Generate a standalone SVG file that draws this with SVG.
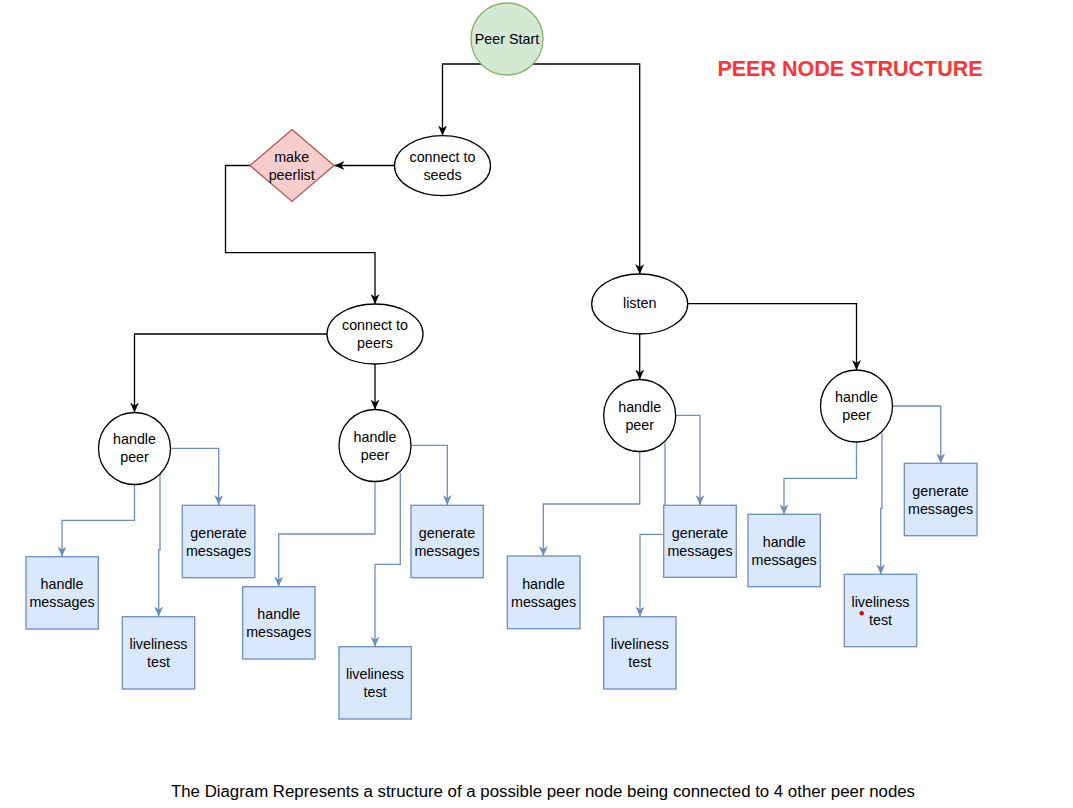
<svg xmlns="http://www.w3.org/2000/svg" width="1073" height="808" viewBox="0 0 1073 808">
<style>
text{font-family:"Liberation Sans",Arial,sans-serif;font-size:14.3px;fill:#000;text-anchor:middle}
.blk{fill:none;stroke:#000;stroke-width:1.3}
.blu{fill:none;stroke:#6c8ebf;stroke-width:1.3}
.ell{fill:#fff;stroke:#000;stroke-width:1.3}
.box{fill:#dae8fc;stroke:#6c8ebf;stroke-width:1.3}
.title{font-size:21.5px;font-weight:bold;fill:#ff3333}
.cap{font-size:16px}
</style>
<defs>
<marker id="ab" viewBox="0 0 10 9" refX="10" refY="4.5" markerWidth="10" markerHeight="9" markerUnits="userSpaceOnUse" orient="auto"><path d="M0,0 L10,4.5 L0,9 L3,4.5 Z" fill="#000"/></marker>
<marker id="au" viewBox="0 0 10 9" refX="10" refY="4.5" markerWidth="10" markerHeight="9" markerUnits="userSpaceOnUse" orient="auto"><path d="M0,0 L10,4.5 L0,9 L3,4.5 Z" fill="#6c8ebf"/></marker>
</defs>
<rect width="1073" height="808" fill="#fff"/>
<g id="connectors">
<path class="blk" marker-end="url(#ab)" d="M481,64 H442.5 V135.5"/>
<path class="blk" marker-end="url(#ab)" d="M533,64 H639.7 V274"/>
<path class="blk" marker-end="url(#ab)" d="M394.5,165.5 H334.5"/>
<path class="blk" marker-end="url(#ab)" d="M250,165.5 H225.5 V252.7 H375 V304"/>
<path class="blk" marker-end="url(#ab)" d="M327,334 H134.5 V412.5"/>
<path class="blk" marker-end="url(#ab)" d="M375,364 V409.5"/>
<path class="blk" marker-end="url(#ab)" d="M639.7,334 V379.5"/>
<path class="blk" marker-end="url(#ab)" d="M688,303.7 H856.5 V370"/>
<path class="blu" marker-end="url(#au)" d="M170.5,448.3 H218.7 V505"/>
<path class="blu" marker-end="url(#au)" d="M134.5,484.5 V520.3 H62 V556.5"/>
<path class="blu" marker-end="url(#au)" d="M160,474 V550 H158.7 V616.5"/>
<path class="blu" marker-end="url(#au)" d="M411,445.3 H447.3 V505"/>
<path class="blu" marker-end="url(#au)" d="M375,481.5 V534 H278.7 V586.5"/>
<path class="blu" marker-end="url(#au)" d="M400.3,472.7 V564.3 H375 V646.5"/>
<path class="blu" marker-end="url(#au)" d="M675.7,415.3 H700 V505"/>
<path class="blu" marker-end="url(#au)" d="M639.7,451.5 V504 H543.3 V556"/>
<path class="blu" marker-end="url(#au)" d="M665,442.7 V534.3 H640 V616.5"/>
<path class="blu" marker-end="url(#au)" d="M892.5,406 H940.7 V463.3"/>
<path class="blu" marker-end="url(#au)" d="M856.5,442 V478.3 H784 V514.3"/>
<path class="blu" marker-end="url(#au)" d="M882,433.3 V508.3 H880.7 V574.3"/>
</g>
<g id="peer-start"><circle cx="507" cy="39" r="36" fill="#d5e8d4" stroke="#82b366" stroke-width="1.3"/><text x="507" y="44">Peer Start</text></g>
<g id="connect-seeds"><ellipse class="ell" cx="442.5" cy="165.7" rx="48" ry="30"/><text x="442.5" y="161.7">connect to</text><text x="442.5" y="180">seeds</text></g>
<g id="make-peerlist"><path d="M292,129.5 L334,165.5 L292,201.5 L250,165.5 Z" fill="#f8cecc" stroke="#b85450" stroke-width="1.3"/><text x="291.7" y="161.7">make</text><text x="291.7" y="180">peerlist</text></g>
<g id="connect-peers"><ellipse class="ell" cx="375" cy="334" rx="48" ry="30"/><text x="375" y="330.3">connect to</text><text x="375" y="348.3">peers</text></g>
<g id="listen"><ellipse class="ell" cx="639.7" cy="304" rx="48" ry="30"/><text x="639.7" y="308.3">listen</text></g>
<g id="hp1"><circle class="ell" cx="134.5" cy="448.5" r="36"/><text x="134.5" y="444.3">handle</text><text x="134.5" y="462.3">peer</text></g>
<g id="hp2"><circle class="ell" cx="375" cy="445.5" r="36"/><text x="375" y="442">handle</text><text x="375" y="460.3">peer</text></g>
<g id="hp3"><circle class="ell" cx="639.7" cy="415.5" r="36"/><text x="639.7" y="412">handle</text><text x="639.7" y="430.3">peer</text></g>
<g id="hp4"><circle class="ell" cx="856.5" cy="406" r="36"/><text x="856.5" y="402">handle</text><text x="856.5" y="420.3">peer</text></g>
<g id="gm1"><rect class="box" x="182.3" y="505.3" width="72.5" height="72.4"/><text x="218.5" y="538.3">generate</text><text x="218.5" y="556.3">messages</text></g>
<g id="hm1"><rect class="box" x="26" y="556.7" width="72.3" height="72.3"/><text x="62" y="589">handle</text><text x="62" y="607.3">messages</text></g>
<g id="lt1"><rect class="box" x="122.3" y="616.7" width="72.4" height="72.3"/><text x="158.5" y="649">liveliness</text><text x="158.5" y="667.3">test</text></g>
<g id="gm2"><rect class="box" x="411" y="505.3" width="72.3" height="72.4"/><text x="447" y="538.3">generate</text><text x="447" y="556.3">messages</text></g>
<g id="hm2"><rect class="box" x="242.7" y="586.7" width="72.3" height="72.3"/><text x="278.8" y="619">handle</text><text x="278.8" y="637.3">messages</text></g>
<g id="lt2"><rect class="box" x="339" y="646.7" width="72.3" height="72.3"/><text x="375" y="679">liveliness</text><text x="375" y="697.3">test</text></g>
<g id="hm3"><rect class="box" x="507.3" y="556" width="72.7" height="72.7"/><text x="543.6" y="589">handle</text><text x="543.6" y="607.3">messages</text></g>
<g id="gm3"><rect class="box" x="663.7" y="505.3" width="72.6" height="72"/><text x="700" y="538.3">generate</text><text x="700" y="556.3">messages</text></g>
<g id="lt3"><rect class="box" x="603.7" y="616.7" width="72.3" height="72.3"/><text x="639.8" y="649">liveliness</text><text x="639.8" y="667.3">test</text></g>
<g id="gm4"><rect class="box" x="904.3" y="463.3" width="72.7" height="72.4"/><text x="940.6" y="496.3">generate</text><text x="940.6" y="514.3">messages</text></g>
<g id="hm4"><rect class="box" x="748" y="514.3" width="72.3" height="72.4"/><text x="784.2" y="547">handle</text><text x="784.2" y="565.3">messages</text></g>
<g id="lt4"><rect class="box" x="844.3" y="574.3" width="72.4" height="72.4"/><text x="880.5" y="607">liveliness</text><text x="880.5" y="625.3">test</text><circle cx="861.7" cy="613.3" r="2.2" fill="#e00000"/></g>
<g id="title"><text class="title" x="850" y="76">PEER NODE STRUCTURE</text></g>
<g id="caption"><text class="cap" x="543" y="797" textLength="744" lengthAdjust="spacingAndGlyphs">The Diagram Represents a structure of a possible peer node being connected to 4 other peer nodes</text></g>
</svg>
